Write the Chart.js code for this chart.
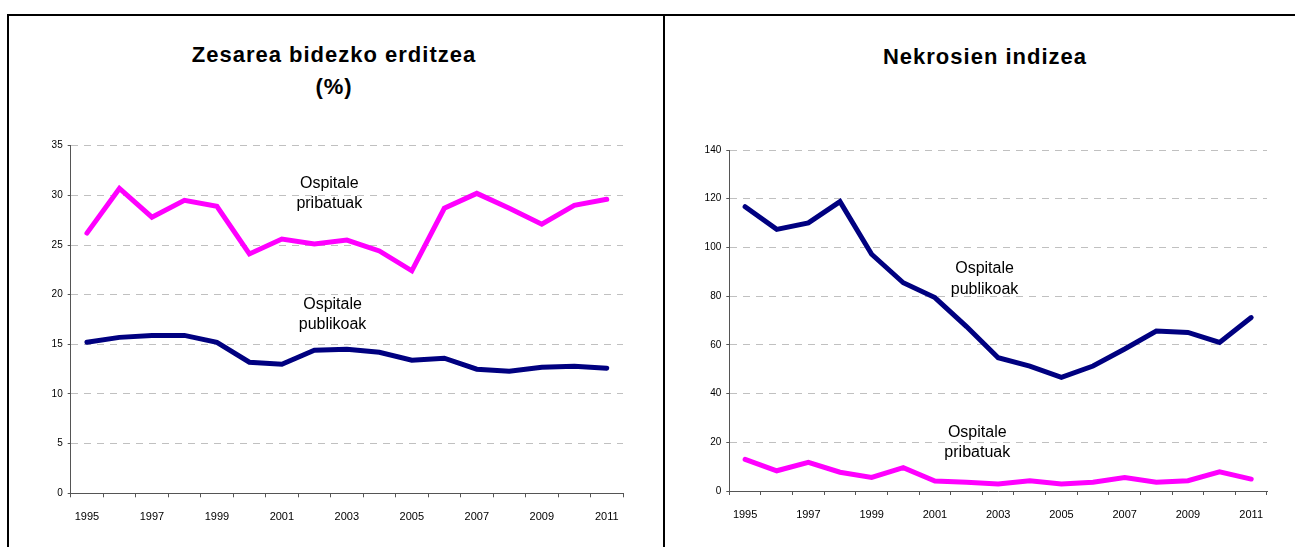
<!DOCTYPE html>
<html lang="eu">
<head>
<meta charset="UTF-8">
<title>Zesarea bidezko erditzea / Nekrosien indizea</title>
<script src="https://cdn.jsdelivr.net/npm/chart.js"></script>
<style>
    body { margin: 0; background: #fff; font-family: "Liberation Sans", Arial, sans-serif; }
    .frame { position: absolute; left: 7px; top: 14px; width: 1300px; height: 600px;
             border-top: 2px solid #000; border-left: 2px solid #000; }
    .divider { position: absolute; left: 663px; top: 14px; width: 2px; height: 600px; background: #000; }
    .title { position: absolute; text-align: center; font-weight: bold; font-size: 22px;
             letter-spacing: 1px; line-height: 32px; color: #000; white-space: nowrap; }
    .box { position: absolute; }
</style>
</head>
<body>
<div class="frame"></div>
<div class="divider"></div>
<div class="title" style="left:134px; width:400px; top:39px;">Zesarea bidezko erditzea<br>(%)</div>
<div class="title" style="left:785px; width:400px; top:41px;">Nekrosien indizea</div>
<div class="box" style="left:10px; top:120px; width:650px; height:420px;"><canvas id="cesarean"></canvas></div>
<div class="box" style="left:667px; top:120px; width:625px; height:420px;"><canvas id="necrosis"></canvas></div>
<script>
// Urteak (x ardatza)
const years = ['1995', '1996', '1997', '1998', '1999', '2000', '2001', '2002', '2003',
               '2004', '2005', '2006', '2007', '2008', '2009', '2010', '2011'];

// Zesarea bidezko erditzea (%)
const cesareanPrivate = [26.2, 30.7, 27.8, 29.5, 28.9, 24.1, 25.6, 25.1, 25.5, 24.4, 22.4, 28.7, 30.2, 28.7, 27.1, 29.0, 29.6];
const cesareanPublic = [15.2, 15.7, 15.9, 15.9, 15.2, 13.2, 13.0, 14.4, 14.5, 14.2, 13.4, 13.6, 12.5, 12.3, 12.7, 12.8, 12.6];

// Nekrosien indizea
const necrosisPublic = [116.7, 107.4, 110.1, 118.8, 97.2, 85.5, 79.4, 67.5, 54.7, 51.3, 46.7, 51.3, 58.3, 65.7, 65.1, 61.0, 71.2];
const necrosisPrivate = [13.0, 8.3, 11.8, 7.7, 5.6, 9.6, 4.1, 3.6, 2.9, 4.2, 2.9, 3.6, 5.5, 3.6, 4.2, 7.9, 4.9];

const PINK = '#ff00ff';
const NAVY = '#000080';
const FONT = '"Liberation Sans", Arial, sans-serif';

// Marrazten ditu lerroen ondoko testuak (x: kategoria indizea, y: balioa)
const labelPlugin = {
    id: 'lineLabels',
    afterDatasetsDraw(chart, args, opts) {
        const ctx = chart.ctx;
        const xs = chart.scales.x, ys = chart.scales.y;
        ctx.save();
        ctx.font = '16px ' + FONT;
        ctx.fillStyle = '#000';
        ctx.textAlign = 'center';
        ctx.textBaseline = 'middle';
        opts.items.forEach(item => {
            const px = xs.getPixelForValue(item.x);
            const py = ys.getPixelForValue(item.y);
            const h = 20.5;
            item.lines.forEach((line, i) => {
                ctx.fillText(line, px, py + (i - (item.lines.length - 1) / 2) * h);
            });
        });
        ctx.restore();
    }
};

function makeChart(id, cfg) {
    const W = cfg.width, H = 420;
    return new Chart(document.getElementById(id), {
        type: 'line',
        data: {
            labels: years,
            datasets: cfg.series.map(s => ({
                data: s.data,
                borderColor: s.color,
                borderWidth: 5,
                pointRadius: 0,
                tension: 0,
                borderCapStyle: 'round',
                borderJoinStyle: 'miter'
            }))
        },
        options: {
            responsive: true,
            maintainAspectRatio: false,
            animation: false,
            layout: { padding: { left: 0, top: cfg.area.top, right: W - cfg.area.right, bottom: 0 } },
            plugins: {
                legend: { display: false },
                tooltip: { enabled: false },
                lineLabels: { items: cfg.notes }
            },
            scales: {
                x: {
                    offset: true,
                    afterFit: s => { s.height = H - cfg.area.bottom; },
                    grid: { display: true, offset: true, drawOnChartArea: false, drawTicks: true,
                            tickLength: 4, tickColor: '#555', color: '#555' },
                    border: { color: '#555', width: 1 },
                    ticks: {
                        autoSkip: false, maxRotation: 0, padding: 13,
                        color: '#000', font: { family: FONT, size: 11 },
                        callback: (v, i) => i % 2 === 0 ? years[i] : ''
                    }
                },
                y: {
                    min: 0, max: cfg.max,
                    afterFit: s => { s.width = cfg.area.left; },
                    grid: { color: '#c0c0c0', tickColor: '#555', tickLength: 3 },
                    border: { color: '#555', width: 1, dash: [7, 6] },
                    ticks: { stepSize: cfg.step, padding: 5, color: '#000', font: { family: FONT, size: 10 } }
                }
            }
        },
        plugins: [labelPlugin]
    });
}

// Ezkerreko grafikoa
makeChart('cesarean', {
    width: 650,
    max: 35, step: 5,
    area: { left: 60.7, top: 25.7, right: 613, bottom: 373.3 },
    series: [
        { data: cesareanPrivate, color: PINK },
        { data: cesareanPublic, color: NAVY }
    ],
    notes: [
        { x: 7.46, y: 30.2, lines: ['Ospitale', 'pribatuak'] },
        { x: 7.56, y: 18.0, lines: ['Ospitale', 'publikoak'] }
    ]
});

// Eskuineko grafikoa
makeChart('necrosis', {
    width: 625,
    max: 140, step: 20,
    area: { left: 62.3, top: 30, right: 600, bottom: 371 },
    series: [
        { data: necrosisPublic, color: NAVY },
        { data: necrosisPrivate, color: PINK }
    ],
    notes: [
        { x: 7.57, y: 86.9, lines: ['Ospitale', 'publikoak'] },
        { x: 7.34, y: 19.8, lines: ['Ospitale', 'pribatuak'] }
    ]
});
</script>
</body>
</html>
